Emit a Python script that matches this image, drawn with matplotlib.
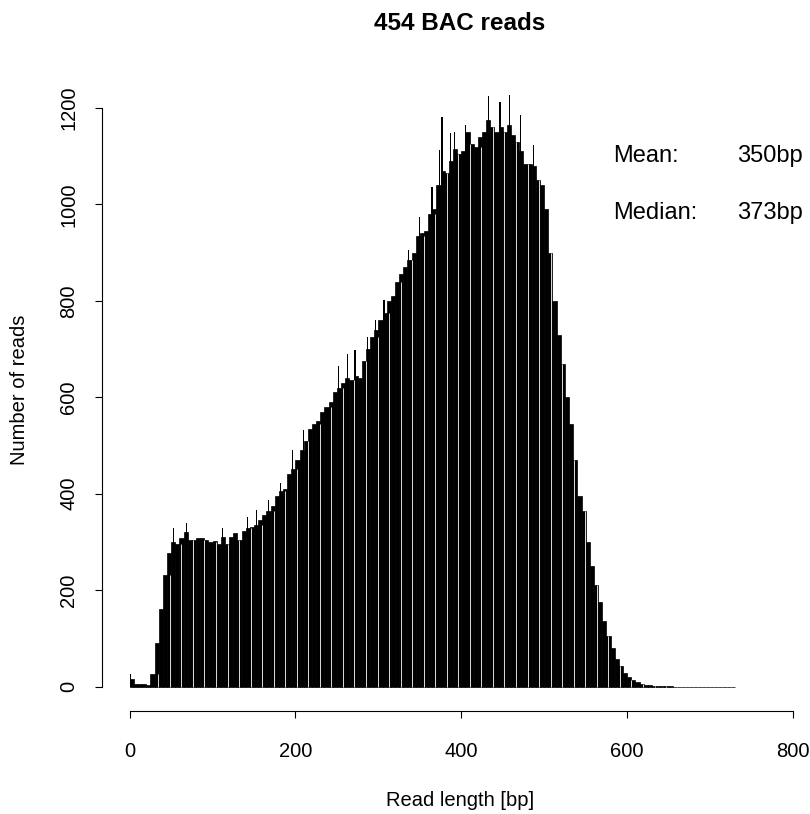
import matplotlib
matplotlib.use("Agg")
import matplotlib.pyplot as plt
import numpy as np

plt.rcParams['font.family'] = ['Liberation Sans', 'DejaVu Sans']

# read length bins (5 bp wide), start of each bin
bin_width = 5
bin_start = np.arange(0, 730, bin_width)

# number of reads per bin
counts = [
    15, 6, 5, 6, 4, 25, 90, 160, 232, 278,            # 0-45
    300, 295, 308, 320, 305, 303, 308, 308, 305, 300,  # 50-95
    302, 295, 310, 295, 310, 318, 305, 322, 328, 330,  # 100-145
    335, 345, 355, 365, 375, 395, 405, 410, 440, 452,  # 150-195
    470, 490, 510, 535, 545, 550, 570, 580, 590, 610,  # 200-245
    620, 630, 640, 635, 645, 640, 675, 700, 725, 740,  # 250-295
    760, 775, 800, 810, 840, 855, 870, 885, 900, 935,  # 300-345
    940, 945, 980, 990, 1040, 1070, 1065, 1090, 1115, 1105,  # 350-395
    1110, 1150, 1125, 1120, 1140, 1150, 1175, 1160, 1150, 1160,  # 400-445
    1150, 1165, 1145, 1130, 1110, 1085, 1085, 1080, 1050, 1040,  # 450-495
    990, 900, 800, 730, 670, 600, 545, 470, 395, 365,  # 500-545
    300, 250, 210, 175, 135, 105, 80, 58, 42, 28,      # 550-595
    20, 14, 10, 6, 4, 3, 2, 2, 1, 1,                   # 600-645
    1, 0, 0, 0, 0, 0, 0, 0, 0, 0,                      # 650-695
    0, 0, 0, 0, 0, 0,                                  # 700-725
]

# single read lengths that stick out above their neighbours
spike_len = [0, 52, 68, 111, 141, 152, 167, 181, 196, 209, 251, 262, 271, 286,
             296, 306, 336, 349, 364, 373, 376, 386, 391, 404, 432, 446, 457,
             471, 486]
spike_count = [25, 328, 340, 328, 352, 366, 387, 422, 491, 533, 664, 690, 698,
               725, 760, 802, 906, 975, 1037, 1113, 1182, 1148, 1151, 1165,
               1225, 1213, 1228, 1185, 1124]

x_ticks = [0, 200, 400, 600, 800]
y_ticks = [0, 200, 400, 600, 800, 1000, 1200]

mean_bp = 350
median_bp = 373

fig = plt.figure(figsize=(8.1, 8.14), dpi=100)
ax = fig.add_axes([0.1259, 0.1265, 0.8741, 0.7875])

ax.bar(bin_start, counts, width=bin_width, align='edge',
       color='black', edgecolor='black', linewidth=0.5)
ax.bar(spike_len, spike_count, width=1.5, align='edge',
       color='black', linewidth=0)

# thin light stripes that show up in the original rendering
stripe_x = np.arange(34.5, 730, 13.92)
idx = (stripe_x // bin_width).astype(int)
stripe_h = np.minimum(np.array(counts)[idx], np.array(counts)[np.maximum(idx - 1, 0)])
ax.vlines(stripe_x, 0, stripe_h, colors='white', linewidth=0.6, zorder=3)

ax.set_xlim(-33.4, 820.6)
ax.set_ylim(-50.8, 1279)

for s in ['top', 'right']:
    ax.spines[s].set_visible(False)
ax.spines['bottom'].set_bounds(0, 800)
ax.spines['left'].set_bounds(0, 1200)
ax.spines['bottom'].set_linewidth(0.8)
ax.spines['left'].set_linewidth(0.8)

ax.set_xticks(x_ticks)
ax.set_yticks(y_ticks)
ax.tick_params(direction='out', length=5, width=0.8, labelsize=14.5)
ax.tick_params(axis='x', pad=17)
ax.tick_params(axis='y', pad=12)
for lbl in ax.get_yticklabels():
    lbl.set_rotation(90)
    lbl.set_va('center')

ax.text(583, 1100, 'Mean:', fontsize=17, va='center', ha='left')
ax.text(733, 1100, f'{mean_bp}bp', fontsize=17, va='center', ha='left')
ax.text(583, 982, 'Median:', fontsize=17, va='center', ha='left')
ax.text(733, 982, f'{median_bp}bp', fontsize=17, va='center', ha='left')

fig.text(460 / 810, 1 - 23 / 814, '454 BAC reads', fontsize=17.5,
         fontweight='bold', ha='center', va='center')
fig.text(460 / 810, 1 - 800 / 814, 'Read length [bp]', fontsize=14.5,
         ha='center', va='center')
fig.text(20 / 810, 1 - 390 / 814, 'Number of reads', fontsize=14.5,
         ha='center', va='center', rotation=90)

fig.savefig('out.png', dpi=100)
